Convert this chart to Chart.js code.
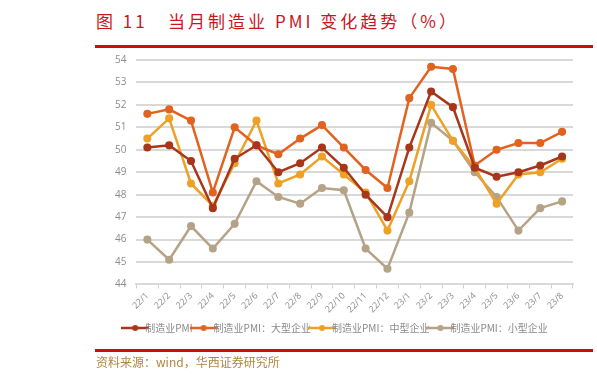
<!DOCTYPE html>
<html>
<head>
<meta charset="utf-8">
<script src="https://cdn.jsdelivr.net/npm/chart.js@4/dist/chart.umd.min.js"></script>
<style>
  body { margin: 0; background: #fff; }
  #wrap { position: relative; width: 597px; height: 381px; overflow: hidden; }
  #title { position: absolute; left: 96px; top: 8px; font-family: "Noto Sans CJK SC"; font-size: 17px; color: #c8161d; letter-spacing: 3px; white-space: pre; }
  .rule { position: absolute; left: 95px; width: 498px; height: 3px; background: #d10a10; }
  #source { position: absolute; left: 96px; top: 353px; font-family: "Noto Sans CJK SC"; font-size: 12px; color: #b0873f; white-space: pre; }
  canvas { position: absolute; left: 0; top: 0; }
</style>
</head>
<body>
<div id="wrap">
  <div id="title">图 11   当月制造业 PMI 变化趋势（%）</div>
  <div class="rule" style="top:45px"></div>
  <canvas id="myChart" width="597" height="381"></canvas>
  <div class="rule" style="top:349px"></div>
  <div id="source">资料来源：wind，华西证券研究所</div>
</div>
<script>
const ctx = document.getElementById("myChart");

var labels = ["22/1", "22/2", "22/3", "22/4", "22/5", "22/6", "22/7", "22/8", "22/9", "22/10",
  "22/11", "22/12", "23/1", "23/2", "23/3", "23/4", "23/5", "23/6", "23/7", "23/8"];

var pmiAll = [50.1, 50.2, 49.5, 47.4, 49.6, 50.2, 49.0, 49.4, 50.1, 49.2, 48.0, 47.0, 50.1, 52.6, 51.9, 49.2, 48.8, 49.0, 49.3, 49.7];
var pmiLarge = [51.6, 51.8, 51.3, 48.1, 51.0, 50.2, 49.8, 50.5, 51.1, 50.1, 49.1, 48.3, 52.3, 53.7, 53.6, 49.3, 50.0, 50.3, 50.3, 50.8];
var pmiMedium = [50.5, 51.4, 48.5, 47.5, 49.4, 51.3, 48.5, 48.9, 49.7, 48.9, 48.1, 46.4, 48.6, 52.0, 50.4, 49.2, 47.6, 48.9, 49.0, 49.6];
var pmiSmall = [46.0, 45.1, 46.6, 45.6, 46.7, 48.6, 47.9, 47.6, 48.3, 48.2, 45.6, 44.7, 47.2, 51.2, 50.4, 49.0, 47.9, 46.4, 47.4, 47.7];

var seriesNames = ["制造业PMI", "制造业PMI：大型企业", "制造业PMI：中型企业", "制造业PMI：小型企业"];
var colors = ["#a8361a", "#e2621f", "#eda126", "#b5a387"];

// little line-with-dot marker for the legend
function legendIcon(color) {
  let c = document.createElement("canvas");
  c.width = 28; c.height = 8;
  let g = c.getContext("2d");
  g.strokeStyle = color;
  g.lineWidth = 2.5;
  g.beginPath(); g.moveTo(0, 4); g.lineTo(28, 4); g.stroke();
  g.fillStyle = color;
  g.beginPath(); g.arc(14, 4, 3, 0, Math.PI * 2); g.fill();
  return c;
}

var allData = [pmiAll, pmiLarge, pmiMedium, pmiSmall];
var datasets = allData.map((d, i) => ({
  label: seriesNames[i],
  data: d,
  borderColor: colors[i],
  backgroundColor: colors[i],
  borderWidth: 2.5,
  pointRadius: 2.8,
  pointStyle: "circle",
  icon: legendIcon(colors[i]),
  tension: 0
}));

var chart = new Chart(ctx, {
  type: "line",
  data: { labels: labels, datasets: datasets },
  options: {
    responsive: false,
    animation: false,
    layout: { padding: { left: 105, right: 24, top: 60, bottom: 38 } },
    scales: {
      y: {
        min: 44,
        max: 54,
        ticks: { stepSize: 1, color: "#8c8c8c", font: { family: "Open Sans", size: 10 }, padding: 10 },
        grid: { color: "#d9d9d9", lineWidth: 2, drawTicks: false },
        border: { display: false }
      },
      x: {
        offset: true,
        ticks: { color: "#8c8c8c", font: { family: "Open Sans", size: 9 }, minRotation: 45, maxRotation: 45, padding: 2 },
        grid: { display: true, drawOnChartArea: false, drawTicks: true, tickLength: 4, color: "#cfcfcf", offset: true },
        border: { display: true, color: "#d9d9d9", width: 2 }
      }
    },
    plugins: {
      legend: {
        position: "bottom",
        labels: {
          usePointStyle: true,
          color: "#8a8a8a",
          font: { family: "Noto Sans CJK SC", size: 10 },
          padding: 6,
          generateLabels: (chart) => chart.data.datasets.map((ds, i) => ({
            text: ds.label,
            pointStyle: ds.icon,
            fillStyle: ds.borderColor,
            strokeStyle: ds.borderColor,
            fontColor: "#8a8a8a",
            lineWidth: 0,
            datasetIndex: i,
            hidden: false
          }))
        }
      },
      tooltip: { enabled: false }
    }
  }
});
</script>
</body>
</html>
